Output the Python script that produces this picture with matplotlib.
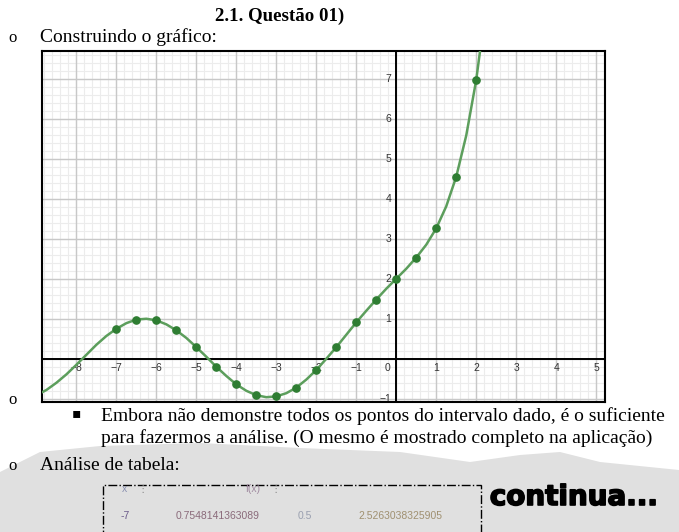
import matplotlib

matplotlib.use("Agg")
import matplotlib.pyplot as plt
import matplotlib.patheffects as pe
from matplotlib.patches import Polygon, Rectangle

W, H = 679, 532

# curve f(x), every 0.25
curve_x = [-9.0, -8.75, -8.5, -8.25, -8.0, -7.75, -7.5, -7.25, -7.0, -6.75,
           -6.5, -6.25, -6.0, -5.75, -5.5, -5.25, -5.0, -4.75, -4.5, -4.25,
           -4.0, -3.75, -3.5, -3.25, -3.0, -2.75, -2.5, -2.25, -2.0, -1.75,
           -1.5, -1.25, -1.0, -0.75, -0.5, -0.25, 0.0, 0.25, 0.5, 0.75,
           1.0, 1.25, 1.5, 1.75, 2.0, 2.25]
curve_y = [-0.91, -0.78, -0.60, -0.39, -0.15, 0.10, 0.35, 0.57, 0.75, 0.89,
           0.98, 1.00, 0.96, 0.86, 0.71, 0.52, 0.29, 0.05, -0.20, -0.43,
           -0.64, -0.80, -0.91, -0.96, -0.94, -0.86, -0.72, -0.52, -0.28, 0.00,
           0.29, 0.60, 0.91, 1.20, 1.48, 1.75, 2.00, 2.25, 2.53, 2.85,
           3.26, 3.81, 4.55, 5.58, 6.97, 8.86]

# highlighted points, every 0.5
pts_x = [-7.0, -6.5, -6.0, -5.5, -5.0, -4.5, -4.0, -3.5, -3.0, -2.5,
         -2.0, -1.5, -1.0, -0.5, 0.0, 0.5, 1.0, 1.5, 2.0]
pts_y = [0.75, 0.98, 0.96, 0.71, 0.29, -0.20, -0.64, -0.91, -0.94, -0.72,
         -0.28, 0.29, 0.91, 1.48, 2.00, 2.53, 3.26, 4.55, 6.97]

x_labels = [-8, -7, -6, -5, -4, -3, -2, -1, 1, 2, 3, 4, 5]
y_labels = [-1, 1, 2, 3, 4, 5, 6, 7]


def fx(x):
    return x / W


def fy(y):
    return 1 - y / H


fig = plt.figure(figsize=(W / 100, H / 100), dpi=100)

# speckled background at the bottom of the page
noise = [(0, 472), (20, 462), (40, 452), (100, 446), (200, 443), (300, 448),
         (400, 452), (470, 462), (520, 455), (560, 452), (600, 462),
         (679, 470), (679, 532), (0, 532)]
fig.patches.append(Polygon([(fx(a), fy(b)) for a, b in noise], closed=True,
                           transform=fig.transFigure, facecolor="#e0e0e0",
                           edgecolor="none", zorder=0))

ax = fig.add_axes([fx(42), fy(402), fx(605) - fx(42), fy(51) - fy(402)])
ax.set_xlim(-8.86, 5.22)
ax.set_ylim(-1.08, 7.69)

minor = [i * 0.2 for i in range(-45, 40)]
for v in minor:
    ax.axvline(v, color="#ececec", lw=0.8, zorder=0)
    ax.axhline(v, color="#ececec", lw=0.8, zorder=0)
for v in range(-9, 9):
    ax.axvline(v, color="#c8c8c8", lw=1.0, zorder=0.5)
    ax.axhline(v, color="#c8c8c8", lw=1.0, zorder=0.5)
ax.axhline(0, color="black", lw=1.4, zorder=1)
ax.axvline(0, color="black", lw=1.4, zorder=1)

ax.set_xticks([])
ax.set_yticks([])
for s in ax.spines.values():
    s.set_linewidth(1.5)
    s.set_color("black")

lab = dict(fontsize=7.5, color="#333333", family="Liberation Sans", zorder=2)
for v in x_labels:
    ax.text(v, -0.22, f"{v}".replace("-", "\u2212"), ha="center", va="center", **lab)
for v in y_labels:
    ax.text(-0.12, v, f"{v}".replace("-", "\u2212"), ha="right", va="center", **lab)
ax.text(-0.22, -0.22, "0", ha="center", va="center", **lab)

ax.plot(curve_x, curve_y, color="#5c9e5c", lw=1.8, zorder=3)
ax.plot(pts_x, pts_y, "o", color="#2e7d32", ms=5.2, zorder=4)

# document text around the chart
serif = "Liberation Serif"
fig.text(fx(280), fy(16), "2.1. Questão 01)", ha="center", va="center",
         family=serif, fontsize=13.6, fontweight="bold")
for yy in (38, 400, 466):
    fig.text(fx(13), fy(yy), "o", ha="center", va="center", family=serif, fontsize=12)
body = dict(ha="left", va="center", family=serif, fontsize=14)
fig.text(fx(40), fy(37), "Construindo o gráfico:", **body)
fig.text(fx(76), fy(413), "\u25aa", ha="center", va="center",
         family="DejaVu Sans", fontsize=10)
fig.text(fx(101), fy(416),
         "Embora não demonstre todos os pontos do intervalo dado, é o suficiente", **body)
fig.text(fx(101), fy(438),
         "para fazermos a análise. (O mesmo é mostrado completo na aplicação)", **body)
fig.text(fx(40), fy(465), "Análise de tabela:", **body)

# faded table
fig.patches.append(Rectangle((fx(103), fy(545)), fx(481) - fx(103), fy(485) - fy(545),
                             transform=fig.transFigure, fill=False,
                             edgecolor="black", lw=1.0, linestyle="-."))
tab = dict(family=["Liberation Sans", "DejaVu Sans"], fontsize=7.5, va="center")
fig.text(fx(124), fy(489), "x", color="#8a90b0", ha="center", **tab)
fig.text(fx(143), fy(489), "\u22ee", color="#888888", ha="center", **tab)
fig.text(fx(253), fy(489), "f(x)", color="#a08aa0", ha="center", **tab)
fig.text(fx(276), fy(489), "\u22ee", color="#888888", ha="center", **tab)
fig.text(fx(125), fy(516), "-7", color="#6a5a8a", ha="center", **tab)
fig.text(fx(218), fy(516), "0.7548141363089", color="#8a6a7a", ha="center", **tab)
fig.text(fx(305), fy(516), "0.5", color="#9aa0b0", ha="center", **tab)
fig.text(fx(400), fy(516), "2.5263038325905", color="#a09070", ha="center", **tab)

fig.text(fx(574), fy(497), "continua...", ha="center", va="center",
         family="DejaVu Sans", fontsize=20, fontweight="heavy", color="black",
         path_effects=[pe.withStroke(linewidth=1.2, foreground="black")])

fig.savefig("out.png", dpi=100)
